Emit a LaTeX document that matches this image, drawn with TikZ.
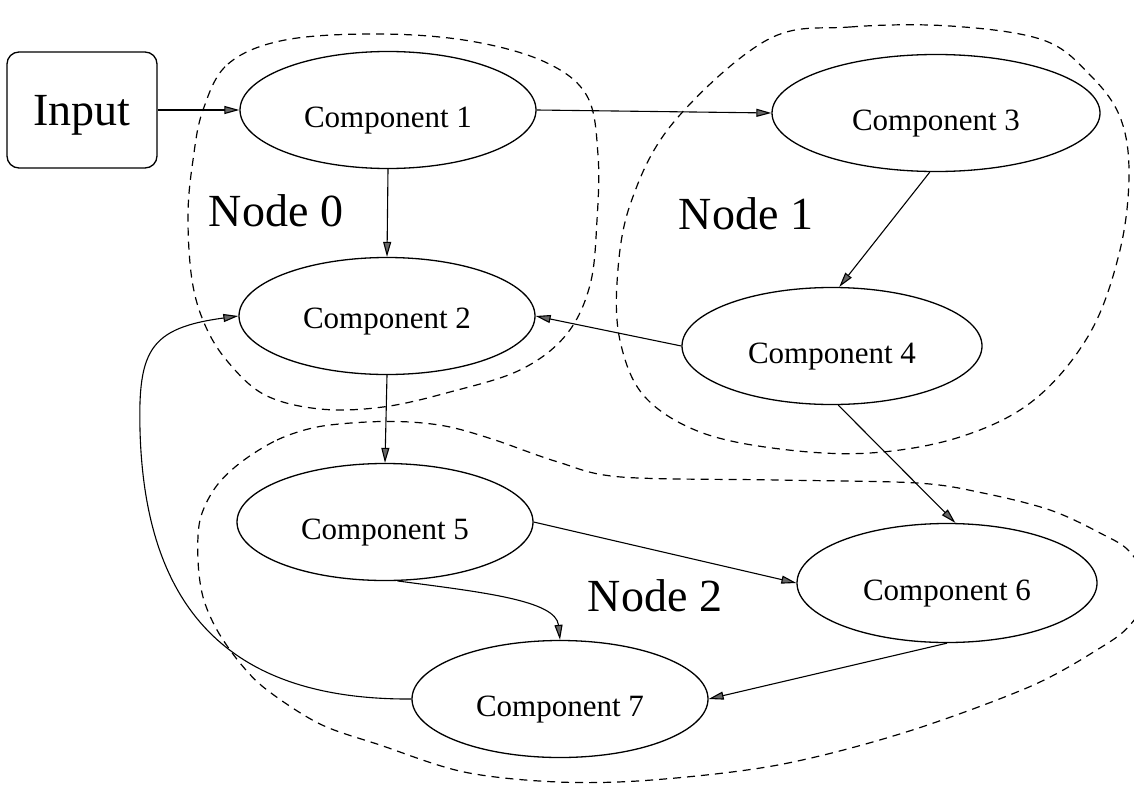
\documentclass[tikz,border=0pt]{standalone}
\usepackage{fontspec}
\setmainfont{Liberation Serif}
\usetikzlibrary{shapes.geometric,arrows.meta}
\begin{document}
\begin{tikzpicture}[x=1pt,y=-1pt,
  comp/.style={ellipse, draw, line width=1.3pt, inner sep=0pt,
    minimum width=296pt, minimum height=117pt,
    font=\fontsize{31}{36}\selectfont, text height=41pt, text depth=7pt},
  inbox/.style={rectangle, rounded corners=12pt, draw, line width=1.3pt,
    minimum width=150pt, minimum height=116pt, inner sep=0pt,
    font=\fontsize{46}{50}\selectfont, text depth=0pt},
  lbl/.style={inner sep=0pt, font=\fontsize{46}{50}\selectfont},
  arr/.style={draw, line width=1.1pt,
    -{Triangle[length=15pt,width=8pt,fill=black!60]}},
  region/.style={draw, line width=1.2pt, dash pattern=on 8pt off 6pt}]
\useasboundingbox (0,0) rectangle (1134,784);
\clip (0,0) rectangle (1134,784);

% processing nodes (dashed groups)
\draw[region] plot[smooth cycle, tension=0.6] coordinates {
  (203,110) (228,64) (285,40) (380,34) (470,41) (545,62) (587,96)
  (598,155) (597,220) (590,285) (566,335) (520,370) (450,392)
  (383,407) (320,409) (265,395) (228,362) (205,325) (192,280)
  (188,215) (193,160)};
\draw[region] plot[smooth cycle, tension=0.6] coordinates {
  (767,40) (850,27) (950,26) (1043,40) (1090,75) (1120,117) (1129,173)
  (1120,250) (1090,333) (1034,400) (960,437) (870,453) (780,449)
  (700,432) (645,397) (621,345) (617,283) (630,205) (673,123)};
\draw[region] plot[smooth cycle, tension=0.55] coordinates {
  (240,463) (277,440) (317,427) (367,422) (410,422) (450,427)
  (495,440) (558,462) (621,477) (778,480) (917,483) (983,493)
  (1050,510) (1100,533) (1130,552) (1150,590) (1130,625) (1100,648)
  (1029,687) (903,733) (778,765) (652,780) (558,782) (464,772)
  (380,745) (320,724) (267,690) (240,663) (217,630) (203,597)
  (198,560) (200,520) (215,488)};

% components
\node[inbox] (in) at (82,110) {Input};
\node[comp] (c1) at (388,110) {Component 1};
\node[comp, text height=31pt] (c2) at (387,316) {Component 2};
\node[comp, minimum width=328pt] (c3) at (936,113) {Component 3};
\node[comp, minimum width=300pt] (c4) at (832,346) {Component 4};
\node[comp] (c5) at (385,522) {Component 5};
\node[comp, minimum width=300pt, minimum height=119pt] (c6) at (947,583) {Component 6};
\node[comp] (c7) at (560,699) {Component 7};

% group labels
\node[lbl] (n0) at (276,211) {Node 0};
\node[lbl] (n1) at (746,214) {Node 1};
\node[lbl] (n2) at (655,596) {Node 2};

% data flow
\draw[arr] (in.east) -- (c1.west);
\draw[arr] (c1.south) -- (c2.north);
\draw[arr] (c1.east) -- (c3.west);
\draw[arr] (c3.264) -- (c4.83);
\draw[arr] (c4.west) -- (c2.east);
\draw[arr] (c2.south) -- (c5.north);
\draw[arr] (c4.276) -- (c6.82);
\draw[arr] (c5.east) -- (c6.west);
\draw[arr] (c6.south) -- (c7.east);
\draw[arr] (c5.-78) .. controls (480,592) and (556,600) .. (c7.north);
\draw[arr] (c7.west) .. controls (240,700) and (145,620) .. (140,430)
  .. controls (138,350) and (150,328) .. (c2.west);
\end{tikzpicture}
\end{document}
